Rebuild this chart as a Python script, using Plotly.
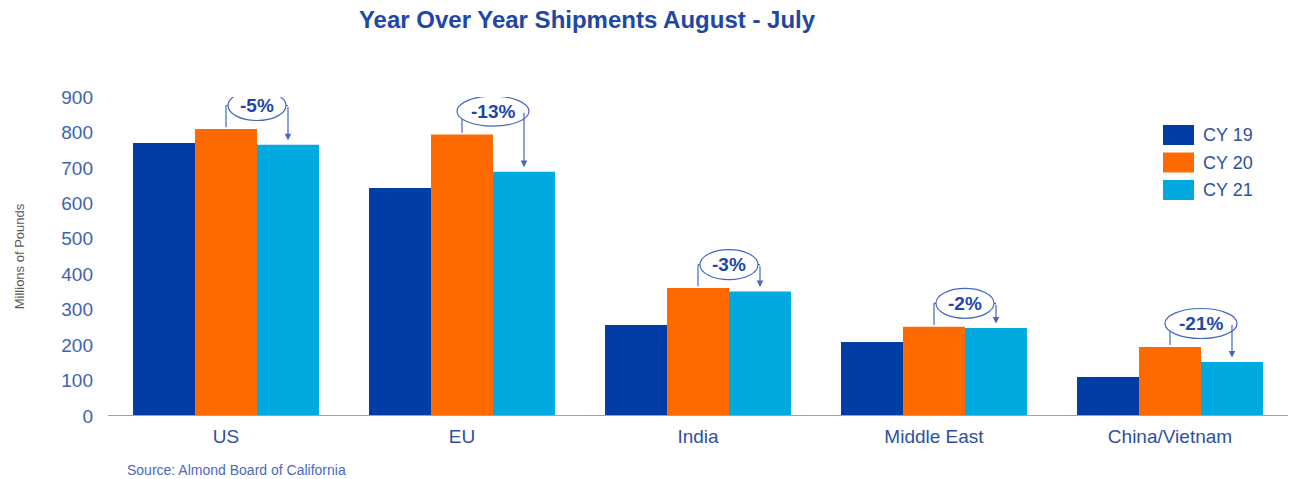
import plotly.graph_objects as go

regions = ["US", "EU", "India", "Middle East", "China/Vietnam"]
series_names = ["CY 19", "CY 20", "CY 21"]
cy19 = [770, 643, 257, 209, 110]
cy20 = [810, 794, 361, 252, 195]
cy21 = [765, 689, 351, 248, 152]
change_labels = ["-5%", "-13%", "-3%", "-2%", "-21%"]
colors = ["#003DA5", "#FF6A00", "#00A9E0"]

FONT = "Liberation Sans, Arial, sans-serif"
LINE_BLUE = "#4468BE"
TEXT_BLUE = "#2147A6"

BARGAP = 0.212
BAR_W = (1 - BARGAP) / 3
LABEL_OFFSET = 66

# plot area geometry in pixels (for paper-coordinate conversions)
PL, PR, PT, PB = 108, 1288, 97, 416


def px_x(px):
    return (px - PL) / (PR - PL)


def px_y(py):
    return (PB - py) / (PB - PT)


fig = go.Figure()
for name, vals, col in zip(series_names, [cy19, cy20, cy21], colors):
    fig.add_trace(go.Bar(x=regions, y=vals, name=name, marker_color=col,
                         marker_line_width=0, showlegend=False))

shapes = [dict(type="line", xref="paper", yref="y", x0=0, x1=1, y0=0, y1=0,
               line=dict(color="#8FA3D3", width=2))]
annotations = []
for i, (v20, v21, lab) in enumerate(zip(cy20, cy21, change_labels)):
    ly = v20 + LABEL_OFFSET
    xl = i
    xr = i + BAR_W
    xm = i + BAR_W / 2
    shapes.append(dict(type="line", xref="x", yref="y", x0=xl, x1=xl, y0=v20 + 5, y1=ly,
                       line=dict(color=LINE_BLUE, width=1.2)))
    shapes.append(dict(type="line", xref="x", yref="y", x0=xl, x1=xr, y0=ly, y1=ly,
                       line=dict(color=LINE_BLUE, width=1.2)))
    wpx = 58 if len(lab) <= 3 else 72
    shapes.append(dict(type="circle", xref="x", yref="y", xsizemode="pixel", ysizemode="pixel",
                       xanchor=xm, yanchor=ly, x0=-wpx / 2, x1=wpx / 2, y0=-15, y1=15,
                       fillcolor="white", line=dict(color=LINE_BLUE, width=1.2)))
    annotations.append(dict(x=xr, y=v21 + 13, ax=xr, ay=ly, xref="x", yref="y",
                            axref="x", ayref="y", text="", showarrow=True,
                            arrowhead=2, arrowsize=1.1, arrowwidth=1.2, arrowcolor=LINE_BLUE))
    annotations.append(dict(x=xm, y=ly, xref="x", yref="y", text="<b>%s</b>" % lab,
                            showarrow=False, font=dict(family=FONT, size=19, color=TEXT_BLUE)))

# custom legend with large swatches
for k, (name, col) in enumerate(zip(series_names, colors)):
    cy = 135 + k * 27.5
    shapes.append(dict(type="rect", xref="paper", yref="paper",
                       x0=px_x(1163), x1=px_x(1194), y0=px_y(cy + 10), y1=px_y(cy - 10),
                       fillcolor=col, line=dict(width=0)))
    annotations.append(dict(x=px_x(1201), y=px_y(cy), xref="paper", yref="paper",
                            xanchor="left", yanchor="middle", text=name, showarrow=False,
                            font=dict(family=FONT, size=18, color="#2F4FA0")))

annotations.append(dict(x=px_x(125), y=px_y(470), xref="paper", yref="paper",
                        xanchor="left", yanchor="middle", text="Source: Almond Board of California",
                        showarrow=False, font=dict(family=FONT, size=14, color="#4A6BBE")))

fig.update_layout(
    width=1292, height=479,
    margin=dict(l=PL, r=1292 - PR, t=PT, b=479 - PB, autoexpand=False),
    paper_bgcolor="white", plot_bgcolor="white",
    barmode="group", bargap=BARGAP, bargroupgap=0,
    title=dict(text="<b>Year Over Year Shipments August - July</b>",
               x=587 / 1292, xref="container", xanchor="center",
               y=1 - 20 / 479, yref="container", yanchor="middle",
               font=dict(family=FONT, size=24, color=TEXT_BLUE)),
    showlegend=False,
    shapes=shapes,
    annotations=annotations,
    xaxis=dict(showgrid=False, showline=False, ticks="", ticklabelstandoff=7,
               tickfont=dict(family=FONT, size=19, color="#2F4FA0")),
    yaxis=dict(range=[0, 900], dtick=100, showgrid=False, showline=False, zeroline=False,
               ticks="", ticklabelstandoff=14,
               tickfont=dict(family=FONT, size=19, color="#3F62B3"),
               title=dict(text="Millions of Pounds", standoff=33,
                          font=dict(family=FONT, size=13, color="#595959"))),
)

fig.write_html("out.html", config={"displayModeBar": False},
               post_script="document.body.style.margin='0';")
